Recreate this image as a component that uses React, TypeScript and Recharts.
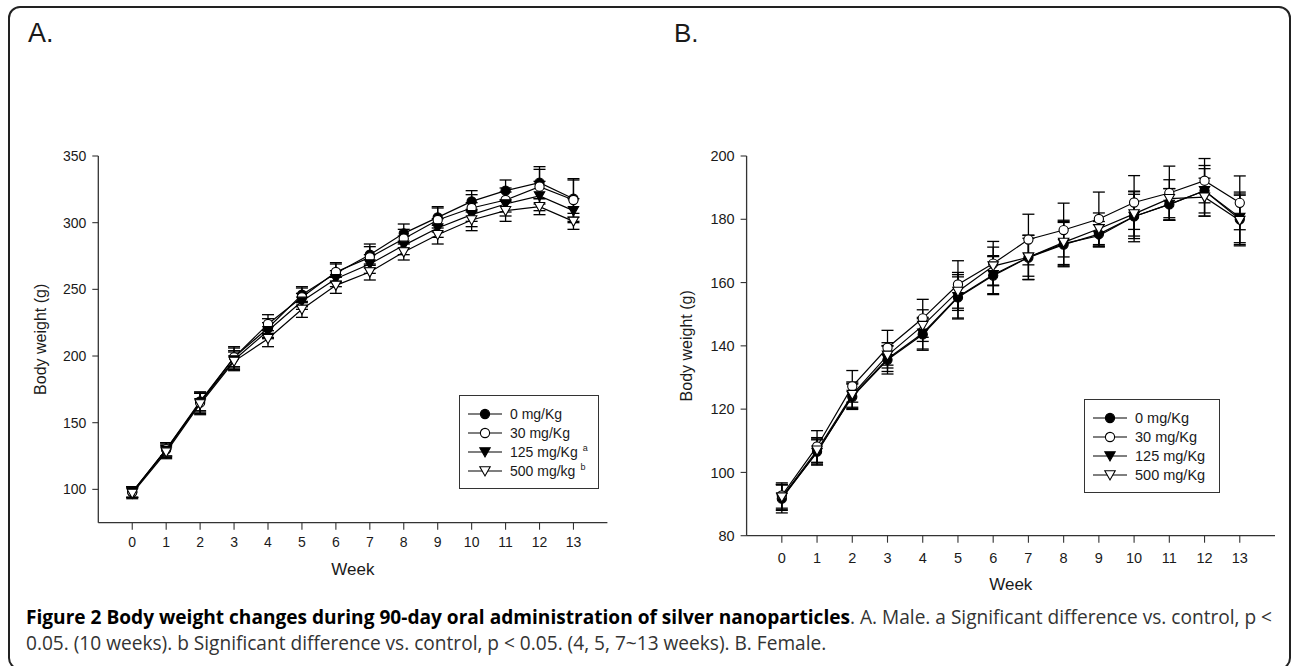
import React from "react";
import { ErrorBar, Legend, Line, LineChart, XAxis, YAxis } from "recharts";

const WEEKS = [0, 1, 2, 3, 4, 5, 6, 7, 8, 9, 10, 11, 12, 13];

// A. Male (g)
const MALE_0 = [98, 130, 166, 199, 221, 246, 262, 276, 292, 304, 316, 324, 330, 318];
const MALE_30 = [98, 130, 165, 199, 224, 244, 263, 274, 288, 302, 311, 317, 327, 317];
const MALE_125 = [98, 129, 165, 197, 219, 241, 258, 269, 283, 296, 306, 314, 320, 309];
const MALE_500 = [97, 128, 164, 196, 213, 235, 253, 263, 278, 291, 302, 309, 312, 301];
const MALE_0_SD = [4, 5, 7, 7, 7, 6, 7, 8, 7, 8, 8, 8, 12, 14];
const MALE_30_SD = [4, 5, 8, 8, 7, 7, 7, 8, 7, 9, 10, 9, 13, 16];
const MALE_125_SD = [4, 5, 7, 7, 6, 6, 6, 7, 7, 7, 9, 9, 11, 9];
const MALE_500_SD = [4, 5, 8, 7, 6, 6, 6, 6, 6, 7, 8, 8, 6, 6];
const MALE_TICKS = [100, 150, 200, 250, 300, 350];

// B. Female (g)
const FEMALE_0 = [91.7, 106.6, 123.9, 135.6, 143.6, 155.3, 162.2, 167.9, 172, 175.3, 180.9, 184.7, 189, 180];
const FEMALE_30 = [92.7, 108.2, 127.2, 139.4, 148.7, 159.4, 166, 173.6, 176.6, 180.1, 185.3, 188.3, 192.2, 185.2];
const FEMALE_125 = [92, 106.3, 124.2, 135.9, 144, 155.5, 162.5, 168, 172.3, 174.8, 180.9, 184.7, 189, 180.6];
const FEMALE_500 = [92.2, 107, 124.6, 137, 146.4, 157.2, 165.2, 168, 172.7, 177, 181.7, 186.5, 187, 179.6];
const FEMALE_0_SD = [4.5, 4, 4, 4.5, 5, 6.5, 6, 7, 7, 4, 7, 5, 7, 8];
const FEMALE_30_SD = [4, 5, 5, 5.5, 6, 7.5, 7, 8, 8.5, 8.5, 8.5, 8.5, 7, 8.5];
const FEMALE_125_SD = [4, 4, 4, 4, 5, 7, 6, 7, 7, 3.5, 8, 5, 8, 8];
const FEMALE_500_SD = [4, 4, 4, 4, 5, 6, 6, 6, 7, 5, 7, 6, 6, 8];
const FEMALE_TICKS = [80, 100, 120, 140, 160, 180, 200];

const MALE_LABELS = ["0 mg/Kg", "30 mg/Kg", "125 mg/Kg", "500 mg/kg"];
const MALE_SUPS = ["", "", "a", "b"];
const FEMALE_LABELS = ["0 mg/Kg", "30 mg/Kg", "125 mg/Kg", "500 mg/Kg"];
const FEMALE_SUPS = ["", "", "", ""];

const KINDS = ["filledCircle", "openCircle", "filledTri", "openTri"];
const KEYS = ["d0", "d30", "d125", "d500"];

const FONT = "Arial, 'Liberation Sans', sans-serif";
const INK = "#1a1a1a";

function buildRows(series, sds) {
  return WEEKS.map((week, i) => {
    const row = { week };
    KEYS.forEach((k, j) => {
      row[k] = series[j][i];
      row[k + "_sd"] = sds[j][i];
    });
    return row;
  });
}

const maleData = buildRows(
  [MALE_0, MALE_30, MALE_125, MALE_500],
  [MALE_0_SD, MALE_30_SD, MALE_125_SD, MALE_500_SD]
);
const femaleData = buildRows(
  [FEMALE_0, FEMALE_30, FEMALE_125, FEMALE_500],
  [FEMALE_0_SD, FEMALE_30_SD, FEMALE_125_SD, FEMALE_500_SD]
);

function Marker({ cx, cy, kind }) {
  if (cx == null || cy == null) return null;
  const filled = kind === "filledCircle" || kind === "filledTri";
  const fill = filled ? "#000" : "#fff";
  if (kind === "filledCircle" || kind === "openCircle") {
    return <circle cx={cx} cy={cy} r={4.6} fill={fill} stroke="#000" strokeWidth={1.1} />;
  }
  const w = 5.2;
  const pts = `${cx - w},${cy - 4.2} ${cx + w},${cy - 4.2} ${cx},${cy + 5}`;
  return <polygon points={pts} fill={fill} stroke="#000" strokeWidth={1.1} />;
}

const dotFor = (kind) => (props) => (
  <Marker key={`${kind}-${props.index}`} cx={props.cx} cy={props.cy} kind={kind} />
);

function LegendBox({ labels, sups, fontSize }) {
  return (
    <div
      style={{
        border: "1.5px solid #333",
        boxSizing: "border-box",
        width: "100%",
        height: "100%",
        padding: "8px 0 0 8px",
        fontFamily: FONT,
        fontSize,
        color: INK,
      }}
    >
      {labels.map((label, i) => (
        <div key={label} style={{ display: "flex", alignItems: "center", height: 19 }}>
          <svg width={34} height={14}>
            <line x1={0} y1={7} x2={34} y2={7} stroke="#000" strokeWidth={1.2} />
            <Marker cx={17} cy={7} kind={KINDS[i]} />
          </svg>
          <span style={{ marginLeft: 8, whiteSpace: "nowrap" }}>
            {label}
            {sups[i] && (
              <sup style={{ fontSize: 9, marginLeft: 5, verticalAlign: 6 }}>{sups[i]}</sup>
            )}
          </span>
        </div>
      ))}
    </div>
  );
}

function Panel({ data, width, height, margin, yDomain, yTicks, tickFont, yLabelOffset, xLabelOffset, xTickMargin, legend }) {
  const tickStyle = { fill: INK, fontSize: tickFont, fontFamily: FONT };
  return (
    <LineChart width={width} height={height} data={data} margin={margin}>
      <XAxis
        type="number"
        dataKey="week"
        domain={[-1, 14]}
        ticks={WEEKS}
        interval={0}
        height={30}
        tickSize={7}
        tickMargin={xTickMargin}
        axisLine={{ stroke: "#333", strokeWidth: 1.3 }}
        tickLine={{ stroke: "#333", strokeWidth: 1.1 }}
        tick={tickStyle}
        label={{
          value: "Week",
          position: "bottom",
          offset: xLabelOffset,
          style: { fill: INK, fontSize: 17, fontFamily: FONT },
        }}
      />
      <YAxis
        type="number"
        domain={yDomain}
        ticks={yTicks}
        interval={0}
        width={70}
        tickSize={6}
        tickMargin={6}
        axisLine={{ stroke: "#333", strokeWidth: 1.3 }}
        tickLine={{ stroke: "#333", strokeWidth: 1.1 }}
        tick={tickStyle}
        label={{
          value: "Body weight (g)",
          angle: -90,
          position: "insideLeft",
          offset: yLabelOffset,
          style: { textAnchor: "middle", fill: INK, fontSize: 16, fontFamily: FONT },
        }}
      />
      {KEYS.map((k, i) => (
        <Line
          key={k}
          type="linear"
          dataKey={k}
          stroke="#000"
          strokeWidth={1.2}
          dot={dotFor(KINDS[i])}
          activeDot={false}
          isAnimationActive={false}
        >
          <ErrorBar dataKey={k + "_sd"} direction="y" width={6} stroke="#000" strokeWidth={1.3} />
        </Line>
      ))}
      <Legend
        layout="horizontal"
        verticalAlign="middle"
        align="center"
        wrapperStyle={legend.style}
        content={() => (
          <LegendBox labels={legend.labels} sups={legend.sups} fontSize={legend.fontSize} />
        )}
      />
    </LineChart>
  );
}

export default function App() {
  return (
    <div
      style={{
        position: "fixed",
        left: 0,
        top: 0,
        width: 1293,
        height: 666,
        background: "#fff",
        overflow: "hidden",
      }}
    >
      <div
        style={{
          position: "absolute",
          left: 8,
          top: 6,
          width: 1283,
          height: 664,
          border: "2px solid #222",
          borderRadius: 12,
          boxSizing: "border-box",
        }}
      />
      <div style={{ position: "absolute", left: 28, top: 20, fontFamily: FONT, fontSize: 27, lineHeight: 1, color: INK }}>
        A.
      </div>
      <div style={{ position: "absolute", left: 674, top: 20, fontFamily: FONT, fontSize: 26, lineHeight: 1, color: INK }}>
        B.
      </div>

      <div style={{ position: "absolute", left: 0, top: 0 }}>
        <Panel
          data={maleData}
          width={640}
          height={666}
          margin={{ top: 156, right: 32.6, bottom: 113.3, left: 28.3 }}
          yDomain={[75, 350]}
          yTicks={MALE_TICKS}
          tickFont={14}
          yLabelOffset={12}
          xLabelOffset={10}
          xTickMargin={7}
          legend={{
            labels: MALE_LABELS,
            sups: MALE_SUPS,
            fontSize: 14,
            style: { position: "absolute", left: 459, top: 395, width: 140, height: 94 },
          }}
        />
      </div>

      <div style={{ position: "absolute", left: 640, top: 0 }}>
        <Panel
          data={femaleData}
          width={653}
          height={666}
          margin={{ top: 156, right: 18, bottom: 100.3, left: 36.6 }}
          yDomain={[80, 200]}
          yTicks={FEMALE_TICKS}
          tickFont={14.5}
          yLabelOffset={10}
          xLabelOffset={12}
          xTickMargin={10}
          legend={{
            labels: FEMALE_LABELS,
            sups: FEMALE_SUPS,
            fontSize: 14.5,
            style: { position: "absolute", left: 444, top: 399, width: 136, height: 94 },
          }}
        />
      </div>

      <div
        style={{
          position: "absolute",
          left: 26,
          top: 605,
          fontFamily: "'Open Sans', sans-serif",
          fontSize: 19.1,
          lineHeight: "25.5px",
          color: "#333",
          whiteSpace: "nowrap",
        }}
      >
        <div>
          <b style={{ color: "#000" }}>
            Figure 2 Body weight changes during 90-day oral administration of silver nanoparticles
          </b>
          . A. Male. a Significant difference vs. control, p &lt;
        </div>
        <div>
          0.05. (10 weeks). b Significant difference vs. control, p &lt; 0.05. (4, 5, 7~13 weeks). B. Female.
        </div>
      </div>
    </div>
  );
}
